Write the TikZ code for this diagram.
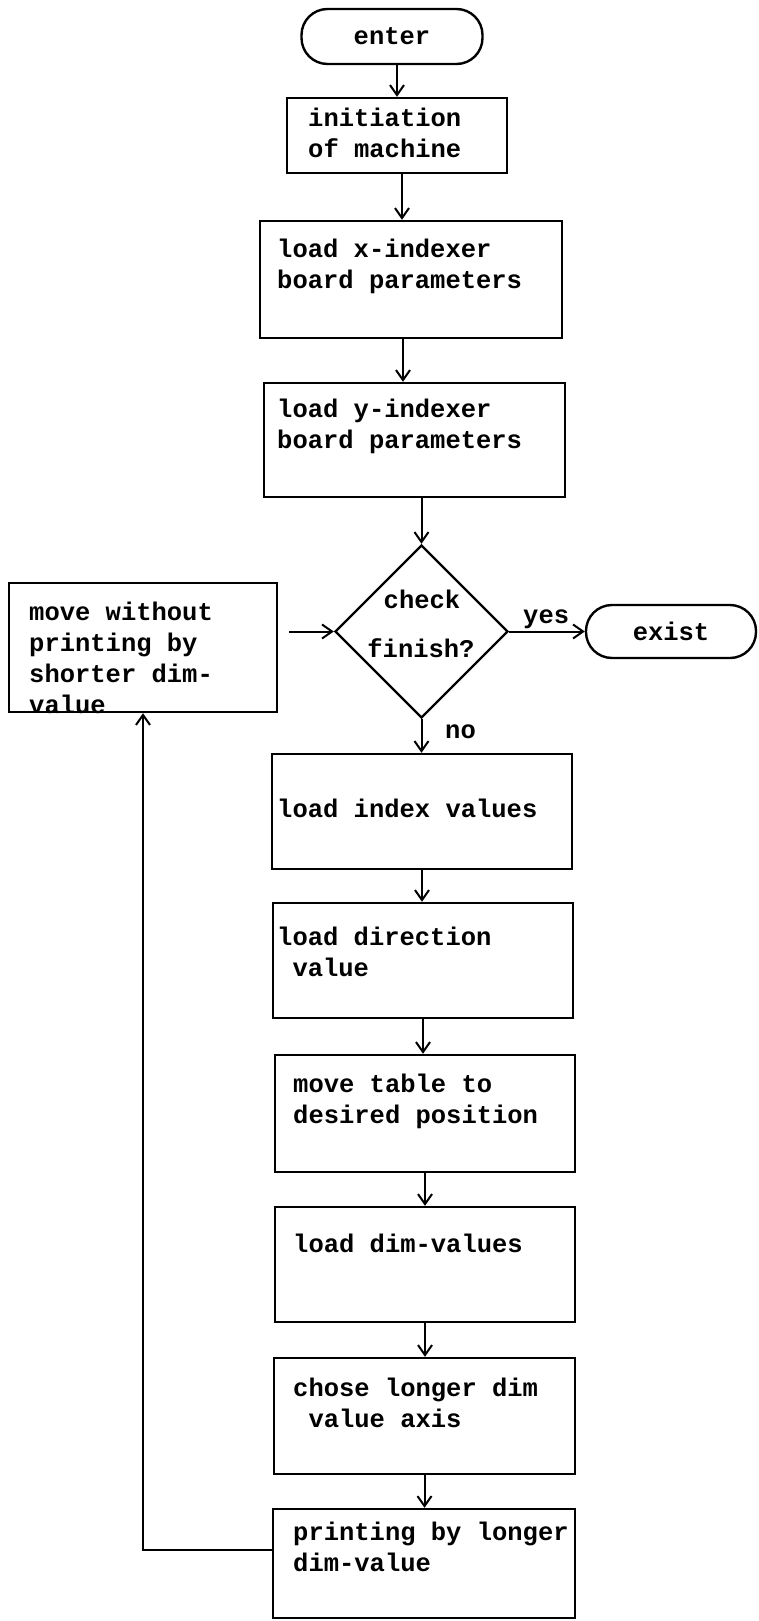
\documentclass[tikz,border=0pt]{standalone}
\usepackage{fontspec}
\setmonofont{Liberation Mono}
\usetikzlibrary{arrows.meta,shapes.geometric}
\begin{document}
\begin{tikzpicture}[x=1pt,y=-1pt,
  every node/.style={font=\ttfamily\bfseries\fontsize{25.5}{31}\selectfont, inner sep=0pt},
  stepbox/.style={draw, line width=2.4pt, rectangle},
  terminal/.style={draw, line width=2.4pt, rectangle, rounded corners=26pt},
  decision/.style={draw, line width=2.4pt, diamond, minimum width=173pt, minimum height=173pt},
  txt/.style={anchor=base west, align=left},
  arr/.style={line width=2pt, -{Straight Barb[length=10pt,width=14pt,line width=2pt]}}]

% page
\fill[white] (0,0) rectangle (758,1621);
\useasboundingbox (0,0) rectangle (758,1621);

% terminals
\node[terminal, minimum width=181pt, minimum height=55pt] (enter) at (392,36.5) {enter};
\node[terminal, minimum width=170pt, minimum height=53pt] (exist) at (671,631.5) {exist};

% process boxes
\node[stepbox, minimum width=220pt, minimum height=75pt]  (init)  at (397,135.5) {};
\node[stepbox, minimum width=302pt, minimum height=117pt] (xidx)  at (411,279.5) {};
\node[stepbox, minimum width=301pt, minimum height=114pt] (yidx)  at (414.5,440) {};
\node[decision] (dia) at (421.5,631.5) {};
\node[stepbox, minimum width=268pt, minimum height=129pt] (lbox)  at (143,647.5) {};
\node[stepbox, minimum width=300pt, minimum height=115pt] (lidx)  at (422,811.5) {};
\node[stepbox, minimum width=300pt, minimum height=115pt] (ldir)  at (423,960.5) {};
\node[stepbox, minimum width=300pt, minimum height=117pt] (mtab)  at (425,1113.5) {};
\node[stepbox, minimum width=300pt, minimum height=115pt] (ldim)  at (425,1264.5) {};
\node[stepbox, minimum width=301pt, minimum height=116pt] (chose) at (424.5,1416) {};
\node[stepbox, minimum width=302pt, minimum height=109pt] (print) at (424,1563.5) {};

% box texts (anchored at the baseline of the last line)
\node[txt] (t-init)  at (308,158)  {initiation\\of machine};
\node[txt] (t-xidx)  at (277,288)  {load x-indexer\\board parameters};
\node[txt] (t-yidx)  at (277,448)  {load y-indexer\\board parameters};
\node[txt] (t-lbox)  at (29,713)   {move without\\printing by\\shorter dim-\\value};
\node[txt] (t-lidx)  at (277,817)  {load index values};
\node[txt] (t-ldir)  at (277,976)  {load direction\\~value};
\node[txt] (t-mtab)  at (293,1123) {move table to\\desired position};
\node[txt] (t-ldim)  at (293,1252) {load dim-values};
\node[txt] (t-chose) at (293,1427) {chose longer dim\\~value axis};
\node[txt] (t-print) at (293,1571) {printing by longer\\dim-value};

% decision texts
\node[anchor=base] (t-check)  at (422,608) {check};
\node[anchor=base] (t-finish) at (421,657) {finish?};
\node[anchor=base west] (yes) at (523,623) {yes};
\node[anchor=base west] (no)  at (445,738) {no};

% main flow
\draw[arr] (init.north |- enter.south) -- (init.north);
\draw[arr] ([xshift=5pt]init.south) -- ([xshift=5pt]init.south |- xidx.north);
\draw[arr] ([xshift=-8pt]xidx.south) -- ([xshift=-8pt]xidx.south |- yidx.north);
\draw[arr] (dia.north |- yidx.south) -- (dia.north);
\draw[arr] (dia.east) -- (exist.west);
\draw[arr] (dia.south) -- (dia.south |- lidx.north);
\draw[arr] (lidx.south) -- (lidx.south |- ldir.north);
\draw[arr] (ldir.south) -- (ldir.south |- mtab.north);
\draw[arr] (mtab.south) -- (mtab.south |- ldim.north);
\draw[arr] (ldim.south) -- (ldim.south |- chose.north);
\draw[arr] (chose.south) -- (chose.south |- print.north);

% loop back
\draw[arr] ([yshift=13.5pt]print.west) -| (lbox.south);
\draw[arr, shorten <=11pt] (lbox.east |- dia.west) -- (dia.west);
\end{tikzpicture}
\end{document}
